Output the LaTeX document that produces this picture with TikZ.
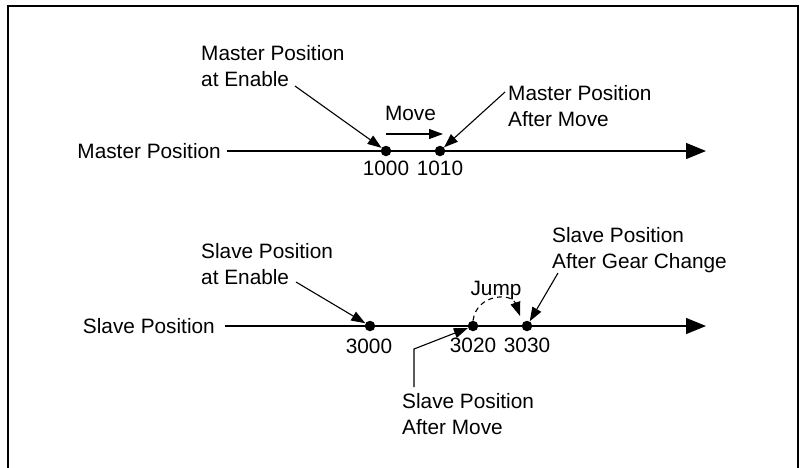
\documentclass[tikz,border=0pt]{standalone}
\usepackage{fontspec}
\setmainfont{Liberation Sans}
\usetikzlibrary{arrows.meta}
\begin{document}
\begin{tikzpicture}[x=1pt,y=-1pt,
  every node/.style={font=\fontsize{20.8}{25.5}\selectfont, inner sep=0pt},
  dot/.style={circle,fill=black,minimum size=10.5pt,inner sep=0pt},
  axis/.style={line width=1.3pt,-{Triangle[length=20pt,width=16pt]}},
  ptr/.style={line width=1.1pt,-{Triangle[length=14pt,width=10pt]}},
  lbl/.style={align=left,anchor=north west}]
\useasboundingbox (0,0) rectangle (800,467);
\draw[line width=1.8pt] (8,470) -- (8,6) -- (798,6) -- (798,470);

% axis labels and axes
\node[anchor=east,inner xsep=6pt] (mlab) at (227,151) {Master Position};
\node[anchor=east,inner xsep=10pt] (slab) at (225,326) {Slave Position};
\coordinate (mend) at (706,151);
\coordinate (send) at (706,326);
\draw[axis] (mlab.east) -- (mend);
\draw[axis] (slab.east) -- (send);

% dots
\node[dot] (m1000) at (386,151) {};
\node[dot] (m1010) at (440,151) {};
\node[dot] (s3000) at (370,326) {};
\node[dot] (s3020) at (473,326) {};
\node[dot] (s3030) at (527,326) {};

% numbers
\node (n1000) at (386,168) {1000};
\node (n1010) at (440,168) {1010};
\node (n3000) at (369,346) {3000};
\node (n3020) at (473,345) {3020};
\node (n3030) at (527,345) {3030};

% labels
\node[lbl] (mae) at (201,45.5) {Master Position\\at Enable};
\node (move) at (410.5,113) {Move};
\node[lbl] (mam) at (508,85.5) {Master Position\\After Move};
\node[lbl] (sae) at (201,243.5) {Slave Position\\at Enable};
\node[anchor=base] (jump) at (496,295) {Jump};
\node[lbl] (sag) at (552,227.5) {Slave Position\\After Gear Change};
\node[lbl] (sam) at (402,393.5) {Slave Position\\After Move};

% connectors
\coordinate (a1) at (295,86);
\draw[ptr] (a1) -- (m1000);
\coordinate (a2) at (505,92);
\draw[ptr] (a2) -- (m1010);
\coordinate (mv1) at (386,134);
\coordinate (mv2) at (443,134);
\draw[ptr] (mv1) -- (mv2);
\coordinate (a3) at (296,282);
\draw[ptr] (a3) -- (s3000);
\coordinate (a4) at (558,273);
\draw[ptr] (a4) -- (s3030);
\coordinate (b1) at (414,387);
\coordinate (b2) at (414,349);
\draw[ptr] (b1) -- (b2) -- (s3020);
\coordinate (j2) at (520,316);
\draw[ptr,dash pattern=on 5pt off 4pt] (s3020.north) .. controls (477,293) and (512,293) .. (j2);
\end{tikzpicture}
\end{document}
